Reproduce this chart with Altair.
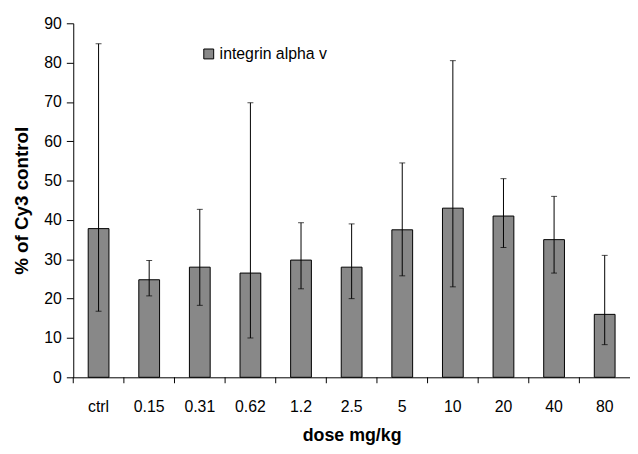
import altair as alt
import pandas as pd

doses = ["ctrl", "0.15", "0.31", "0.62", "1.2", "2.5", "5", "10", "20", "40", "80"]
means = [37.8, 24.8, 28.0, 26.5, 29.8, 28.0, 37.5, 43.0, 41.0, 35.0, 16.0]
err_low = [16.8, 20.7, 18.3, 10.0, 22.5, 20.0, 25.8, 23.0, 33.0, 26.5, 8.3]
err_high = [84.8, 29.7, 42.7, 69.8, 39.3, 39.0, 54.5, 80.5, 50.5, 46.0, 31.0]
y_ticks = [0, 10, 20, 30, 40, 50, 60, 70, 80, 90]
series_name = "integrin alpha v"

df = pd.DataFrame({
    "dose": doses,
    "mean": means,
    "lo": err_low,
    "hi": err_high,
    "series": [series_name] * len(doses),
})

FONT = "Liberation Sans"
W, H = 563, 358
Y_TITLE = "% of Cy3  control"
X_TITLE = "dose mg/kg"

xs = alt.Scale(paddingInner=0, paddingOuter=0)
ys = alt.Scale(domain=[0, 90], nice=False)

bars = alt.Chart(df).mark_bar(size=21, stroke="black", strokeWidth=1).encode(
    x=alt.X("dose:N", sort=doses, scale=xs, title=X_TITLE),
    y=alt.Y("mean:Q", scale=ys, title=Y_TITLE, axis=alt.Axis(values=y_ticks)),
    color=alt.Color("series:N",
                    scale=alt.Scale(range=["#888888"]),
                    legend=alt.Legend(title=None, orient="none", legendX=129, legendY=23,
                                      symbolType="square", symbolSize=100,
                                      symbolStrokeColor="black", symbolStrokeWidth=1,
                                      labelFontSize=16, labelColor="black", labelFont=FONT,
                                      labelOffset=3)),
)

xn = alt.X("dose:N", sort=doses, title=X_TITLE)

rules = alt.Chart(df).mark_rule(color="black", strokeWidth=1).encode(
    x=xn, y=alt.Y("lo:Q", title=Y_TITLE, axis=alt.Axis(values=y_ticks)), y2="hi:Q")

caps_lo = alt.Chart(df).mark_tick(color="black", size=6, thickness=1).encode(
    x=xn, y=alt.Y("lo:Q", title=Y_TITLE, axis=alt.Axis(values=y_ticks)))
caps_hi = alt.Chart(df).mark_tick(color="black", size=6, thickness=1).encode(
    x=xn, y=alt.Y("hi:Q", title=Y_TITLE, axis=alt.Axis(values=y_ticks)))

xticks = alt.Chart(df).mark_rule(color="black", strokeWidth=1).encode(
    x=alt.X("dose:N", sort=doses, bandPosition=0, title=X_TITLE),
    y=alt.value(H), y2=alt.value(H + 6))

chart = alt.layer(bars, rules, caps_lo, caps_hi, xticks).properties(
    width=W, height=H,
    autosize=alt.AutoSizeParams(type="none"),
    padding={"left": 66, "top": 13, "right": 0, "bottom": 67},
    background="white",
).configure(font=FONT).configure_view(
    strokeWidth=0, strokeOpacity=0
).configure_axis(
    grid=False, domainColor="black", tickColor="black",
    labelColor="black", titleColor="black",
    labelFontSize=16, titleFontWeight="bold",
    labelOverlap=False, labelFlush=False,
).configure_axisX(
    labelAngle=0, ticks=False, labelPadding=22, titlePadding=12, titleFontSize=18,
).configure_axisY(
    tickSize=7, labelPadding=5, titlePadding=12, titleFontSize=19,
)

chart.save("out.html", embed_options={"renderer": "svg", "actions": False})
